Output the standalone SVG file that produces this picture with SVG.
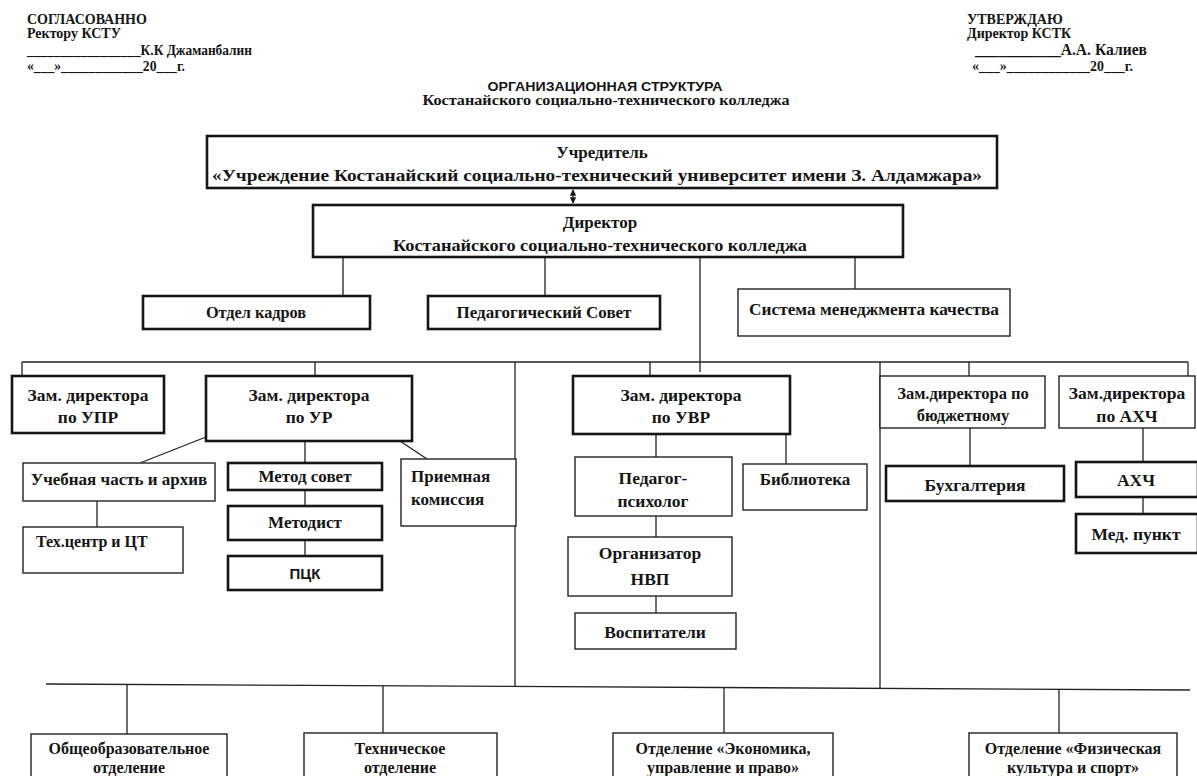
<svg xmlns="http://www.w3.org/2000/svg" width="1197" height="776" viewBox="0 0 1197 776">
<defs>
<style>
.t{font-family:"Liberation Serif","Times New Roman",serif;font-weight:bold;fill:#151515}
.s{font-family:"Liberation Sans",Arial,sans-serif;font-weight:bold;fill:#151515}
.c{text-anchor:middle}
.b{fill:#fff;stroke:#151515;stroke-width:2.6}
.bt{fill:#fff;stroke:#222;stroke-width:1.4}
.ln{stroke:#222;stroke-width:1.3;fill:none}
</style>
<marker id="ah" viewBox="0 0 10 10" refX="9" refY="5" markerWidth="5" markerHeight="5" orient="auto-start-reverse">
<path d="M0,0 L10,5 L0,10 z" fill="#151515"/>
</marker>
</defs>
<rect width="1197" height="776" fill="#fff"/>

<g id="header-left" class="t" font-size="14">
<text x="27" y="24">СОГЛАСОВАННО</text>
<text x="27" y="38">Ректору КСТУ</text>
<text x="27" y="55" textLength="225" lengthAdjust="spacingAndGlyphs">_________________К.К Джаманбалин</text>
<text x="27" y="71" textLength="158" lengthAdjust="spacingAndGlyphs">«___»____________20___г.</text>
</g>
<g id="header-right" class="t" font-size="14">
<text x="967" y="24">УТВЕРЖДАЮ</text>
<text x="967" y="38">Директор КСТК</text>
<text x="975" y="55" font-size="16" textLength="172" lengthAdjust="spacingAndGlyphs">___________А.А. Калиев</text>
<text x="972" y="71" textLength="161" lengthAdjust="spacingAndGlyphs">«___»____________20___г.</text>
</g>
<g id="title">
<text class="s c" x="605" y="91" font-size="13" textLength="235" lengthAdjust="spacingAndGlyphs">ОРГАНИЗАЦИОННАЯ СТРУКТУРА</text>
<text class="t c" x="606" y="105" font-size="14.5" textLength="367" lengthAdjust="spacingAndGlyphs">Костанайского социально-технического колледжа</text>
</g>

<g id="connectors">
<line class="ln" x1="573" y1="190" x2="573" y2="203" marker-start="url(#ah)" marker-end="url(#ah)"/>
<line class="ln" x1="343" y1="257" x2="343" y2="296"/>
<line class="ln" x1="545" y1="257" x2="545" y2="296"/>
<line class="ln" x1="700" y1="257" x2="700" y2="372"/>
<line class="ln" x1="855" y1="257" x2="855" y2="289"/>
<line class="ln" x1="22" y1="362" x2="1188" y2="362"/>
<line class="ln" x1="22" y1="362" x2="22" y2="376"/>
<line class="ln" x1="315" y1="362" x2="315" y2="376"/>
<line class="ln" x1="650" y1="362" x2="650" y2="376"/>
<line class="ln" x1="969" y1="362" x2="969" y2="376"/>
<line class="ln" x1="1188" y1="362" x2="1188" y2="376"/>
<line class="ln" x1="515" y1="362" x2="515" y2="686"/>
<line class="ln" x1="880" y1="362" x2="880" y2="689"/>
<line class="ln" x1="206" y1="437" x2="140" y2="463"/>
<line class="ln" x1="97" y1="501" x2="97" y2="527"/>
<line class="ln" x1="305" y1="441" x2="305" y2="463"/>
<line class="ln" x1="305" y1="490" x2="305" y2="506"/>
<line class="ln" x1="305" y1="540" x2="305" y2="556"/>
<line class="ln" x1="400" y1="441" x2="427" y2="459"/>
<line class="ln" x1="656" y1="434" x2="656" y2="457"/>
<line class="ln" x1="786" y1="434" x2="786" y2="464"/>
<line class="ln" x1="656" y1="516" x2="656" y2="537"/>
<line class="ln" x1="656" y1="596" x2="656" y2="613"/>
<line class="ln" x1="970" y1="428" x2="970" y2="466"/>
<line class="ln" x1="1143" y1="428" x2="1143" y2="462"/>
<line class="ln" x1="1143" y1="497" x2="1143" y2="514"/>
<line class="ln" x1="46" y1="684" x2="1190" y2="690"/>
<line class="ln" x1="127" y1="685" x2="127" y2="734"/>
<line class="ln" x1="383" y1="686" x2="383" y2="733"/>
<line class="ln" x1="724" y1="688" x2="724" y2="733"/>
<line class="ln" x1="1059" y1="690" x2="1059" y2="733"/>
</g>

<g id="founder">
<rect class="b" x="207" y="136" width="790" height="52"/>
<text class="t c" x="602" y="158" font-size="17">Учредитель</text>
<text class="t c" x="597" y="181" font-size="17" textLength="770" lengthAdjust="spacingAndGlyphs">«Учреждение  Костанайский социально-технический университет имени З. Алдамжара»</text>
</g>
<g id="director">
<rect class="b" x="313" y="205" width="590" height="52"/>
<text class="t c" x="600" y="228" font-size="17">Директор</text>
<text class="t c" x="600" y="251" font-size="17" textLength="414" lengthAdjust="spacingAndGlyphs">Костанайского социально-технического колледжа</text>
</g>
<g id="hr">
<rect class="b" x="143" y="296" width="227" height="33"/>
<text class="t c" x="256" y="318" font-size="16.3">Отдел кадров</text>
</g>
<g id="ped-sovet">
<rect class="b" x="428" y="296" width="232" height="33"/>
<text class="t c" x="544" y="318" font-size="17">Педагогический Совет</text>
</g>
<g id="smk">
<rect class="bt" x="738" y="289" width="272" height="47"/>
<text class="t" x="749" y="315" font-size="17" textLength="250" lengthAdjust="spacingAndGlyphs">Система менеджмента качества</text>
</g>

<g id="zam-upr">
<rect class="b" x="12" y="376" width="152" height="57"/>
<text class="t c" x="88" y="401" font-size="17.5">Зам. директора</text>
<text class="t c" x="88" y="423" font-size="17.5">по УПР</text>
</g>
<g id="zam-ur">
<rect class="b" x="206" y="376" width="206" height="65"/>
<text class="t c" x="309" y="401" font-size="17.5">Зам. директора</text>
<text class="t c" x="309" y="423" font-size="17.5">по УР</text>
</g>
<g id="zam-uvr">
<rect class="b" x="573" y="376" width="217" height="58"/>
<text class="t c" x="681" y="401" font-size="17.5">Зам. директора</text>
<text class="t c" x="681" y="423" font-size="17.5">по УВР</text>
</g>
<g id="zam-budget">
<rect class="bt" x="880" y="376" width="165" height="52"/>
<text class="t c" x="963" y="399" font-size="16.5">Зам.директора по</text>
<text class="t c" x="963" y="421" font-size="16.5">бюджетному</text>
</g>
<g id="zam-ahch">
<rect class="bt" x="1059" y="376" width="136" height="52"/>
<text class="t c" x="1127" y="399" font-size="17.5">Зам.директора</text>
<text class="t c" x="1127" y="422" font-size="17.5">по АХЧ</text>
</g>

<g id="uch-chast">
<rect class="bt" x="23" y="463" width="192" height="38"/>
<text class="t c" x="119" y="485" font-size="17">Учебная часть и архив</text>
</g>
<g id="tech-center">
<rect class="bt" x="23" y="527" width="160" height="46"/>
<text class="t" x="36" y="547" font-size="16">Тех.центр и ЦТ</text>
</g>
<g id="metod-sovet">
<rect class="b" x="228" y="463" width="154" height="27"/>
<text class="t c" x="305" y="482" font-size="17">Метод совет</text>
</g>
<g id="metodist">
<rect class="b" x="228" y="506" width="154" height="34"/>
<text class="t c" x="305" y="528" font-size="17">Методист</text>
</g>
<g id="pck">
<rect class="b" x="228" y="556" width="154" height="34"/>
<text class="s c" x="305" y="579" font-size="15">ПЦК</text>
</g>
<g id="priem">
<rect class="bt" x="401" y="459" width="115" height="67"/>
<text class="t" x="411" y="482" font-size="17">Приемная</text>
<text class="t" x="411" y="505" font-size="17">комиссия</text>
</g>

<g id="psych">
<rect class="bt" x="575" y="457" width="157" height="59"/>
<text class="t c" x="653" y="484" font-size="17.5">Педагог-</text>
<text class="t c" x="653" y="507" font-size="17.5">психолог</text>
</g>
<g id="library">
<rect class="bt" x="743" y="464" width="124" height="46"/>
<text class="t c" x="805" y="485" font-size="17">Библиотека</text>
</g>
<g id="nvp">
<rect class="bt" x="568" y="537" width="164" height="59"/>
<text class="t c" x="650" y="559" font-size="17.5">Организатор</text>
<text class="t c" x="650" y="585" font-size="17.5">НВП</text>
</g>
<g id="vospit">
<rect class="bt" x="575" y="613" width="161" height="36"/>
<text class="t c" x="655" y="638" font-size="17.5">Воспитатели</text>
</g>

<g id="buh">
<rect class="b" x="886" y="466" width="178" height="35"/>
<text class="t c" x="975" y="491" font-size="17.5">Бухгалтерия</text>
</g>
<g id="ahch">
<rect class="b" x="1076" y="462" width="122" height="35"/>
<text class="t c" x="1136" y="486" font-size="17.5">АХЧ</text>
</g>
<g id="med">
<rect class="b" x="1076" y="514" width="122" height="39"/>
<text class="t c" x="1136" y="540" font-size="17.5">Мед. пункт</text>
</g>

<g id="dep-general">
<rect class="bt" x="31" y="734" width="196" height="50"/>
<text class="t c" x="129" y="754" font-size="16">Общеобразовательное</text>
<text class="t c" x="129" y="773" font-size="16">отделение</text>
</g>
<g id="dep-tech">
<rect class="bt" x="304" y="733" width="193" height="50"/>
<text class="t c" x="400" y="754" font-size="16">Техническое</text>
<text class="t c" x="400" y="773" font-size="16">отделение</text>
</g>
<g id="dep-econ">
<rect class="bt" x="613" y="733" width="220" height="50"/>
<text class="t c" x="723" y="754" font-size="16">Отделение «Экономика,</text>
<text class="t c" x="723" y="773" font-size="16">управление и право»</text>
</g>
<g id="dep-sport">
<rect class="bt" x="969" y="733" width="208" height="50"/>
<text class="t c" x="1073" y="754" font-size="16">Отделение «Физическая</text>
<text class="t c" x="1073" y="773" font-size="16">культура и спорт»</text>
</g>
</svg>
